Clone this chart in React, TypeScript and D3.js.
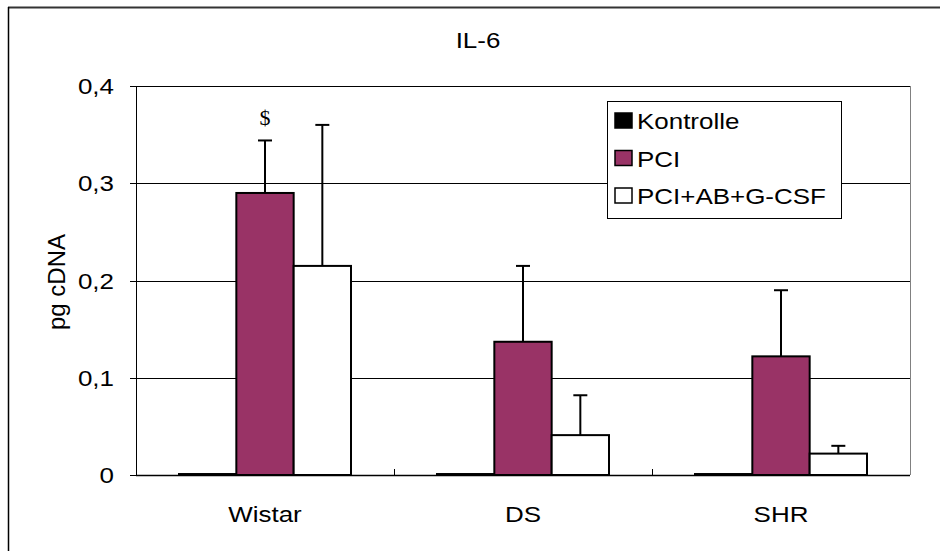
import React from "react";
import * as d3 from "d3";

const categories = ["Wistar", "DS", "SHR"];
const seriesNames = ["Kontrolle", "PCI", "PCI+AB+G-CSF"];
const seriesColors = ["#000000", "#993366", "#ffffff"];
const kontrolle = [0.001, 0.001, 0.001];
const pci = [0.29, 0.137, 0.122];
const pciErr = [0.054, 0.078, 0.068];
const combo = [0.215, 0.041, 0.022];
const comboErr = [0.145, 0.041, 0.008];
const yTicks = [0, 0.1, 0.2, 0.3, 0.4];
const yTickLabels = ["0", "0,1", "0,2", "0,3", "0,4"];
const title = "IL-6";
const yLabel = "pg cDNA";
const marks = [{ cat: "Wistar", series: "PCI", text: "$" }];

const W = 940;
const H = 551;
const plot = { left: 136, right: 910, top: 86, bottom: 475 };
const SX = 1.18;
const FS = 22;
const FONT = "'Liberation Sans', Arial, sans-serif";

function SText(props: { x: number; y: number; anchor?: string; size?: number; children: React.ReactNode; family?: string }) {
  const { x, y, anchor = "start", size = FS, family = FONT } = props;
  return (
    <text
      transform={`translate(${x},${y}) scale(${SX},1)`}
      textAnchor={anchor}
      fontFamily={family}
      fontSize={size}
      fill="#000"
    >
      {props.children}
    </text>
  );
}

export default function App() {
  const y = d3.scaleLinear().domain([0, 0.4]).range([plot.bottom, plot.top]);
  const x = d3.scaleBand<string>().domain(categories).range([plot.left, plot.right]).padding(0);
  const bw = x.bandwidth();
  const inner = d3
    .scaleBand<string>()
    .domain(seriesNames)
    .range([bw / 6, (bw * 5) / 6])
    .padding(0);

  const values = [kontrolle, pci, combo];
  const errs = [null, pciErr, comboErr];

  return (
    <svg width={W} height={H} style={{ position: "absolute", left: 0, top: 0, background: "#fff" }}>
      {/* outer chart border */}
      <line x1={8} x2={W} y1={7.5} y2={7.5} stroke="#333" strokeWidth={2} />
      <line x1={8.5} x2={8.5} y1={7} y2={H} stroke="#000" strokeWidth={1.5} />

      {/* gridlines */}
      {yTicks.slice(1).map((t) => (
        <line key={t} x1={plot.left} x2={plot.right} y1={Math.round(y(t)) + 0.5} y2={Math.round(y(t)) + 0.5} stroke="#000" strokeWidth={1} />
      ))}
      {/* plot border right */}
      <line x1={plot.right + 0.5} x2={plot.right + 0.5} y1={plot.top} y2={plot.bottom} stroke="#808080" strokeWidth={1} />

      {/* bars */}
      {categories.map((c, ci) =>
        seriesNames.map((s, si) => {
          const v = values[si][ci];
          const bx = (x(c) as number) + (inner(s) as number);
          const ww = inner.bandwidth();
          const top = y(v);
          const e = errs[si];
          return (
            <g key={c + s}>
              {e && (
                <g stroke="#000" strokeWidth={2}>
                  <line x1={bx + ww / 2} x2={bx + ww / 2} y1={top} y2={y(v + e[ci])} />
                  <line x1={bx + ww / 2 - 7} x2={bx + ww / 2 + 7} y1={y(v + e[ci])} y2={y(v + e[ci])} />
                </g>
              )}
              <rect x={bx} y={top} width={ww} height={plot.bottom - top} fill={seriesColors[si]} stroke="#000" strokeWidth={2} />
            </g>
          );
        })
      )}

      {/* significance marks */}
      {marks.map((m, i) => {
        const si = seriesNames.indexOf(m.series);
        const ci = categories.indexOf(m.cat);
        const e = errs[si] ? (errs[si] as number[])[ci] : 0;
        const bx = (x(m.cat) as number) + (inner(m.series) as number) + inner.bandwidth() / 2;
        return (
          <text key={i} x={bx} y={y(values[si][ci] + e) - 15} textAnchor="middle" fontFamily="'Liberation Serif', 'Times New Roman', serif" fontSize={22}>
            {m.text}
          </text>
        );
      })}

      {/* y axis */}
      <line x1={plot.left + 0.5} x2={plot.left + 0.5} y1={plot.top} y2={plot.bottom} stroke="#000" strokeWidth={1} />
      {yTicks.map((t, i) => (
        <g key={t}>
          <line x1={plot.left - 6} x2={plot.left} y1={Math.round(y(t)) + 0.5} y2={Math.round(y(t)) + 0.5} stroke="#000" />
          <SText x={plot.left - 22} y={y(t) + 8} anchor="end">{yTickLabels[i]}</SText>
        </g>
      ))}

      {/* x axis */}
      <line x1={plot.left} x2={plot.right} y1={plot.bottom + 0.5} y2={plot.bottom + 0.5} stroke="#000" strokeWidth={1.5} />
      {categories.map((c, i) => (
        <g key={c}>
          {i > 0 && (
            <line x1={Math.round(x(c) as number) + 0.5} x2={Math.round(x(c) as number) + 0.5} y1={plot.bottom - 6} y2={plot.bottom} stroke="#000" />
          )}
          <SText x={(x(c) as number) + bw / 2} y={522} anchor="middle">{c}</SText>
        </g>
      ))}

      {/* title */}
      <SText x={478} y={48} anchor="middle">{title}</SText>

      {/* y label */}
      <text transform="translate(65,282) rotate(-90)" textAnchor="middle" fontFamily={FONT} fontSize={24}>
        {yLabel}
      </text>

      {/* legend */}
      <g>
        <rect x={607.5} y={101.5} width={234} height={117} fill="#fff" stroke="#000" strokeWidth={1} />
        {seriesNames.map((s, i) => (
          <g key={s}>
            <rect x={615} y={113 + i * 37.5} width={17} height={15} fill={seriesColors[i]} stroke="#000" strokeWidth={1.5} />
            <SText x={637} y={129 + i * 37.5}>{s}</SText>
          </g>
        ))}
      </g>
    </svg>
  );
}
